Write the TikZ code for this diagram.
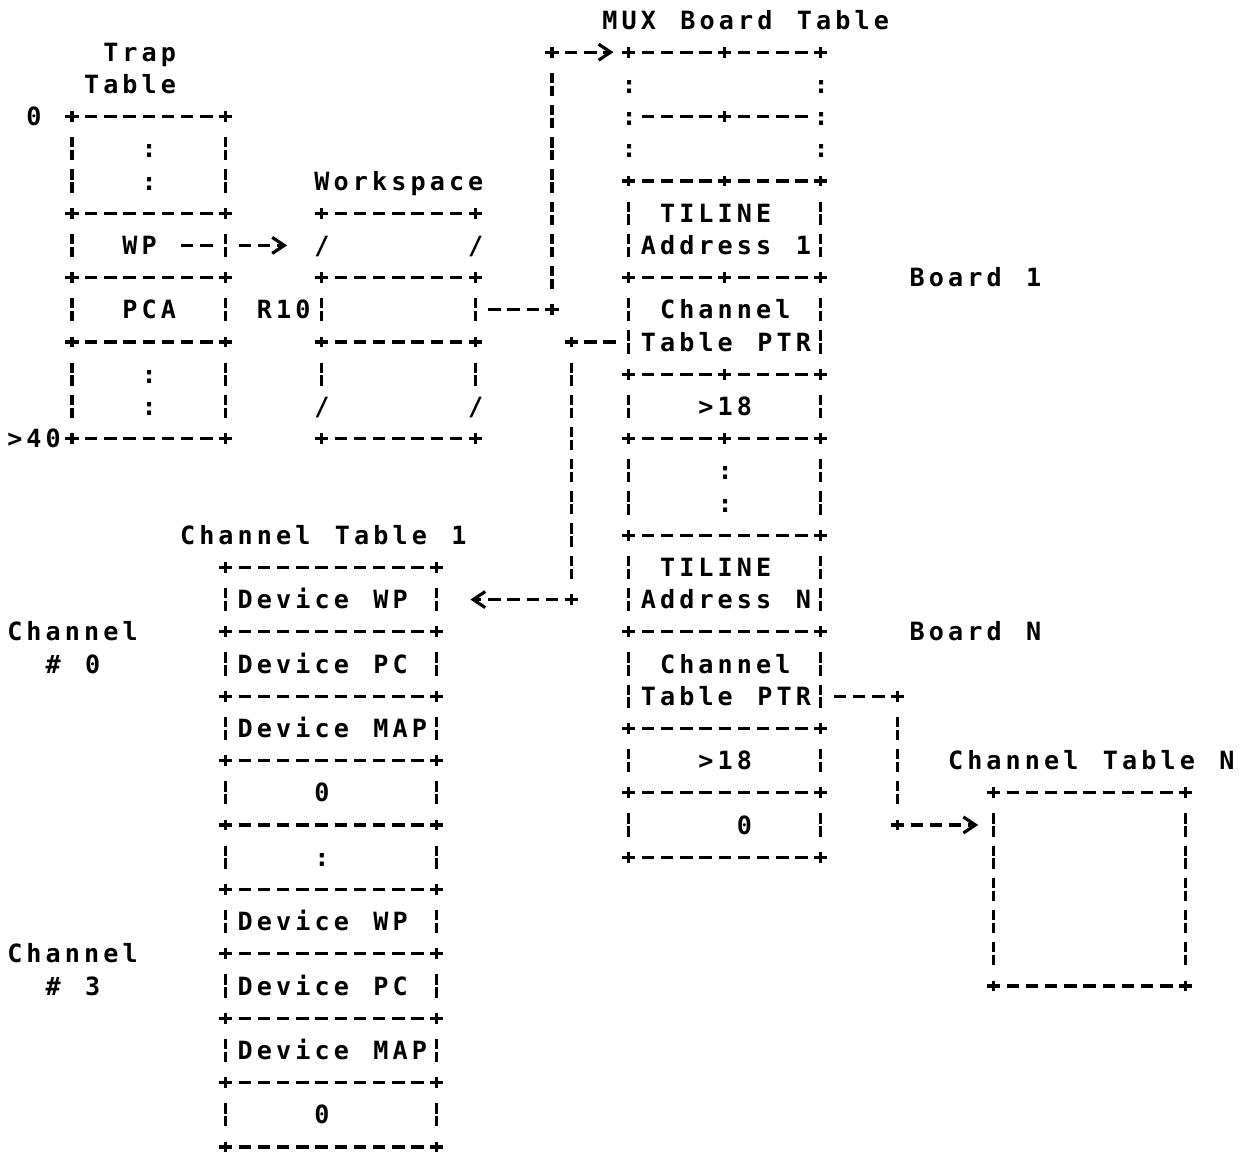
\documentclass[tikz,border=0pt]{standalone}
\usepackage{fontspec}
\usetikzlibrary{arrows.meta,calc}
\newfontfamily\asciifont[LetterSpace=16.3,WordSpace=1.2706]{DejaVu Sans Mono Bold}
% line-printer style pieces: dashes over columns #1..#2 on row #3, broken bars, plus signs
\newcommand{\hdashes}[3]{\draw[hdash] (#1-0.325,#3) -- (#2+0.325,#3);}
\newcommand{\vdashes}[3]{\draw[vdash] (#1,#2-0.36) -- (#1,#3+0.36);}
\newcommand{\crossmark}[1]{\draw[asciiline] (#1) +(-0.34,0) -- +(0.34,0) +(0,-0.17) -- +(0,0.17);}

\begin{document}
\begin{tikzpicture}[x=0.384cm,y=-0.644cm,
    asciiline/.style={line width=1.8pt},
    hdash/.style={asciiline,dash pattern=on 0.25cm off 0.134cm},
    vdash/.style={asciiline,dash pattern=on 0.206cm off 0.0515cm on 0.206cm off 0.18cm},
    txt/.style={font=\asciifont\fontsize{14.3}{17}\selectfont,inner sep=0pt,anchor=base west,xshift=1.2pt},
    chev/.style={-{Straight Barb[length=0.24cm,width=0.32cm]}}]
    \useasboundingbox (-0.75,-0.621) rectangle (64.25,35.246);

    % Trap Table
    \node[txt] (trap lbl a) at (4.5,1.28) {Trap};
    \node[txt] (trap lbl b) at (3.5,2.28) {Table};
    \node[txt] (trap top) at (0.5,3.28) {0};
    \node[txt] (trap end) at (-0.5,13.28) {>40};
    \node[txt] (trap wp) at (5.5,7.28) {WP};
    \node[txt] (trap pca) at (5.5,9.28) {PCA};
    \node[txt] (r10) at (12.5,9.28) {R10};
    \foreach \rw in {4,5,11,12} {\node[txt] (trap dot\rw) at (6.5,\rw+0.28) {:};}
    \foreach \rw in {3,6,8,10,13} {\crossmark{3,\rw} \crossmark{11,\rw} \hdashes{4}{10}{\rw}}
    \foreach \rw in {4,5,7,9,11,12} {\vdashes{3}{\rw}{\rw} \vdashes{11}{\rw}{\rw}}

    % Workspace
    \node[txt] (ws lbl) at (15.5,5.28) {Workspace};
    \foreach \c/\rw in {16/7,24/7,16/12,24/12} {\node[txt] (ws sl\c-\rw) at (\c-0.5,\rw+0.28) {/};}
    \foreach \rw in {6,8,10,13} {\crossmark{16,\rw} \crossmark{24,\rw} \hdashes{17}{23}{\rw}}
    \foreach \rw in {9,11} {\vdashes{16}{\rw}{\rw} \vdashes{24}{\rw}{\rw}}

    % MUX Board Table
    \node[txt] (mux lbl) at (30.5,0.28) {MUX Board Table};
    \foreach \rw in {2,3,4} {
        \node[txt] (mux l\rw) at (31.5,\rw+0.28) {:};
        \node[txt] (mux r\rw) at (41.5,\rw+0.28) {:};
    }
    \node[txt] (tiline a) at (33.5,6.28) {TILINE};
    \node[txt] (addr a) at (32.5,7.28) {Address 1};
    \node[txt] (chan a) at (33.5,9.28) {Channel};
    \node[txt] (ptr a) at (32.5,10.28) {Table PTR};
    \node[txt] (mux gt a) at (35.5,12.28) {>18};
    \foreach \rw in {14,15} {\node[txt] (mux dot\rw) at (36.5,\rw+0.28) {:};}
    \node[txt] (tiline n) at (33.5,17.28) {TILINE};
    \node[txt] (addr n) at (32.5,18.28) {Address N};
    \node[txt] (chan n) at (33.5,20.28) {Channel};
    \node[txt] (ptr n) at (32.5,21.28) {Table PTR};
    \node[txt] (mux gt n) at (35.5,23.28) {>18};
    \node[txt] (mux zero) at (37.5,25.28) {0};
    \foreach \rw in {1,5,8,11,13} {\crossmark{32,\rw} \crossmark{42,\rw}}
    \foreach \rw in {1,3,5,8,11,13} {\crossmark{37,\rw} \hdashes{33}{36}{\rw} \hdashes{38}{41}{\rw}}
    \foreach \rw in {16,19,22,24,26} {\crossmark{32,\rw} \crossmark{42,\rw} \hdashes{33}{41}{\rw}}
    \foreach \rw in {6,7,9,10,12,14,15,17,18,20,21,23,25} {\vdashes{32}{\rw}{\rw} \vdashes{42}{\rw}{\rw}}
    \node[txt] (board a) at (46.5,8.28) {Board 1};
    \node[txt] (board n) at (46.5,19.28) {Board N};

    % Channel Table 1
    \node[txt] (ct1 lbl) at (8.5,16.28) {Channel Table 1};
    \node[txt] (dev wp0) at (11.5,18.28) {Device WP};
    \node[txt] (dev pc0) at (11.5,20.28) {Device PC};
    \node[txt] (dev map0) at (11.5,22.28) {Device MAP};
    \node[txt] (ct1 zero0) at (15.5,24.28) {0};
    \node[txt] (ct1 dots) at (15.5,26.28) {:};
    \node[txt] (dev wp3) at (11.5,28.28) {Device WP};
    \node[txt] (dev pc3) at (11.5,30.28) {Device PC};
    \node[txt] (dev map3) at (11.5,32.28) {Device MAP};
    \node[txt] (ct1 zero3) at (15.5,34.28) {0};
    \foreach \rw in {17,19,...,35} {\crossmark{11,\rw} \crossmark{22,\rw} \hdashes{12}{21}{\rw}}
    \foreach \rw in {18,20,...,34} {\vdashes{11}{\rw}{\rw} \vdashes{22}{\rw}{\rw}}
    \node[txt] (ch0) at (-0.5,19.28) {Channel};
    \node[txt] (ch0 no) at (1.5,20.28) {\# 0};
    \node[txt] (ch3) at (-0.5,29.28) {Channel};
    \node[txt] (ch3 no) at (1.5,30.28) {\# 3};

    % Channel Table N
    \node[txt] (ctn lbl) at (48.5,23.28) {Channel Table N};
    \foreach \rw in {24,30} {\crossmark{51,\rw} \crossmark{61,\rw} \hdashes{52}{60}{\rw}}
    \vdashes{51}{25}{29} \vdashes{61}{25}{29}

    % pointers
    \coordinate (trap wp edge) at (11,7);
    \coordinate (ws wp edge) at (16,7);
    \draw[hdash] ($(trap wp edge)+(-2.325,0)$) -- ($(trap wp edge)+(-0.675,0)$);
    \draw[hdash,chev] ($(trap wp edge)+(0.675,0)$) -- ($(ws wp edge)+(-1.8,0)$);

    \coordinate (ws r10 edge) at (24,9);
    \coordinate (bend r10) at (28,9);
    \coordinate (bend mux) at (28,1);
    \coordinate (mux corner) at (32,1);
    \draw[hdash] ($(ws r10 edge)+(0.675,0)$) -- ($(bend r10)+(-0.675,0)$);
    \draw[vdash] ($(bend r10)+(0,-0.64)$) -- ($(bend mux)+(0,0.64)$);
    \draw[hdash,chev] ($(bend mux)+(0.675,0)$) -- ($(mux corner)+(-0.8,0)$);
    \crossmark{bend r10} \crossmark{bend mux}

    \coordinate (ptr a edge) at (32,10);
    \coordinate (bend ptr a) at (29,10);
    \coordinate (bend ct1) at (29,18);
    \coordinate (ct1 edge) at (22,18);
    \draw[hdash] ($(bend ptr a)+(0.675,0)$) -- ($(ptr a edge)+(-0.675,0)$);
    \draw[vdash] ($(bend ptr a)+(0,0.64)$) -- ($(bend ct1)+(0,-0.64)$);
    \draw[hdash,chev] ($(bend ct1)+(-0.675,0)$) -- ($(ct1 edge)+(1.75,0)$);
    \crossmark{bend ptr a} \crossmark{bend ct1}

    \coordinate (ptr n edge) at (42,21);
    \coordinate (bend ptr n) at (46,21);
    \coordinate (bend ctn) at (46,25);
    \coordinate (ctn edge) at (51,25);
    \draw[hdash] ($(ptr n edge)+(0.675,0)$) -- ($(bend ptr n)+(-0.675,0)$);
    \draw[vdash] ($(bend ptr n)+(0,0.64)$) -- ($(bend ctn)+(0,-0.64)$);
    \draw[hdash,chev] ($(bend ctn)+(0.675,0)$) -- ($(ctn edge)+(-0.8,0)$);
    \crossmark{bend ptr n} \crossmark{bend ctn}
\end{tikzpicture}
\end{document}
